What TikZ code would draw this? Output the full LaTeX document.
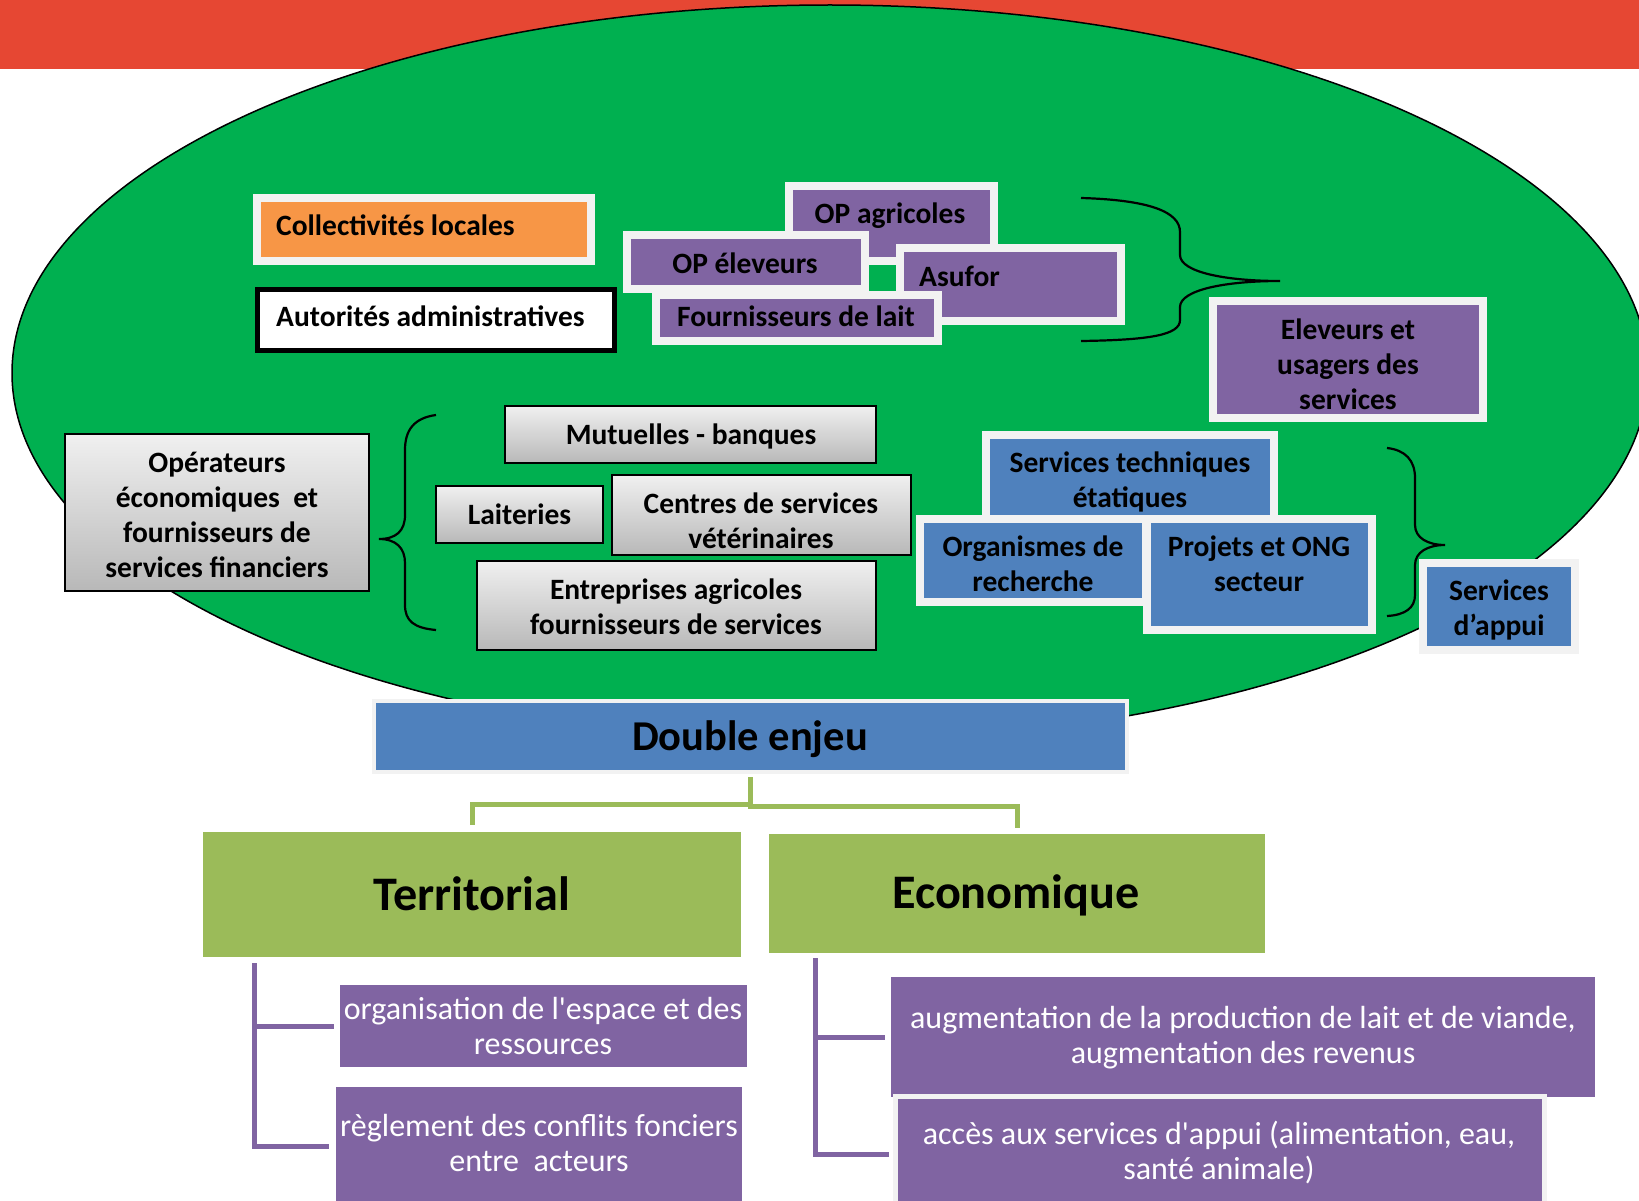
\documentclass[tikz,border=0pt]{standalone}
\usepackage{fontspec}
\setmainfont{Carlito}
\usetikzlibrary{fit,calc}
\definecolor{redband}{HTML}{E64733}
\definecolor{ellgreen}{HTML}{00B050}
\definecolor{orangef}{HTML}{F79646}
\definecolor{purplef}{HTML}{8064A2}
\definecolor{bluef}{HTML}{4F81BD}
\definecolor{greenf}{HTML}{9BBB59}
\definecolor{framec}{HTML}{F2F2F2}
\definecolor{gtop}{HTML}{F0F0F0}
\definecolor{gbot}{HTML}{B8B8B8}
\begin{document}
\begin{tikzpicture}[x=1pt,y=-1pt,
  bx/.style={inner sep=0pt, outer sep=0pt},
  frbox/.style={bx, draw=framec, line width=8pt},
  grayb/.style={bx, draw=black, line width=2.5pt, top color=gtop, bottom color=gbot},
  bt/.style={font=\fontsize{29.5}{35}\selectfont\bfseries, align=center, inner sep=0pt, text=black},
  bigt/.style={font=\fontsize{48.2}{56}\selectfont\bfseries, inner sep=0pt},
  rt/.style={font=\fontsize{32}{35}\selectfont, align=center, inner sep=0pt, text=white},
  bracel/.style={draw=black, line width=2.2pt},
  gline/.style={draw=greenf, line width=5pt},
  pline/.style={draw=purplef, line width=5pt},
]
\useasboundingbox (0,0) rectangle (1639,1201);
\clip (0,0) rectangle (1639,1201);
% background
\fill[redband] (0,0) rectangle (1639,69);
\draw[fill=ellgreen, line width=1.5pt] (830,373) ellipse [x radius=818, y radius=368];

% top-left boxes
\node[frbox, fill=orangef, fit={(257,198) (591,261)}] (coll) {};
\node[bt, anchor=west] (tcoll) at (276,225) {Collectivités locales};
\node[bx, draw=black, line width=5pt, fill=white, fit={(257.5,289.5) (614.5,350.5)}] (auto) {};
\node[bt, anchor=west] (tauto) at (276,316) {Autorités administratives};

% purple group
\node[frbox, fill=purplef, fit={(789,186) (994,261)}] (opa) {};
\node[bt] (topa) at (890,216) {OP agricoles};
\node[frbox, fill=purplef, fit={(627,235) (865,289)}] (ope) {};
\node[bt] (tope) at (745,263) {OP éleveurs};
\node[frbox, fill=purplef, fit={(900,248) (1121,321)}] (asu) {};
\node[bt, anchor=west] (tasu) at (919,276) {Asufor};
\node[frbox, fill=purplef, fit={(656,295) (938,341)}] (four) {};
\node[bt] (tfour) at (796,316) {Fournisseurs de lait};
\node[frbox, fill=purplef, fit={(1213,301) (1483,418)}] (elev) {};
\node[bt] (telev) at (1348,364.5) {Eleveurs et\\usagers des\\services};

% brace to eleveurs
\draw[bracel] (1081,198) .. controls (1150,200) and (1180,212) .. (1180,232) -- (1180,255)
  .. controls (1180,272) and (1225,281) .. (1280,281)
  .. controls (1225,281) and (1180,290) .. (1180,307) -- (1180,320)
  .. controls (1180,335) and (1150,340) .. (1081,341);

% gray boxes
\node[grayb, fit={(65,434) (369,591)}] (oper) {};
\node[bt] (toper) at (217,515) {Opérateurs\\économiques~ et\\fournisseurs de\\services financiers};
\node[grayb, fit={(505,406) (876,463)}] (mut) {};
\node[bt] (tmut) at (691,436) {Mutuelles - banques};
\node[grayb, fit={(436,486) (603,543)}] (lait) {};
\node[bt] (tlait) at (519.5,514) {Laiteries};
\node[grayb, fit={(612,475) (911,555)}] (cent) {};
\node[bt] (tcent) at (761,520.5) {Centres de services\\vétérinaires};
\node[grayb, fit={(477,561) (876,650)}] (entr) {};
\node[bt] (tentr) at (676,606.5) {Entreprises agricoles\\fournisseurs de services};

% left brace
\draw[bracel] (436,415) .. controls (414,418) and (405,430) .. (405,450) -- (405,515)
  .. controls (405,531) and (396,539) .. (379,539)
  .. controls (396,539) and (405,548) .. (405,563) -- (405,605)
  .. controls (405,621) and (414,628) .. (436,630);

% blue group
\node[frbox, fill=bluef, fit={(986,435) (1274,523)}] (stech) {};
\node[bt] (tstech) at (1130,482) {Services techniques\\étatiques};
\node[frbox, fill=bluef, fit={(920,519) (1146,602)}] (orga) {};
\node[bt] (torga) at (1033,564) {Organismes de\\recherche};
\node[frbox, fill=bluef, fit={(1147,519) (1372,630)}] (proj) {};
\node[bt] (tproj) at (1259,564) {Projets et ONG\\secteur};

% right brace
\draw[bracel] (1387,448) .. controls (1405,450) and (1415,460) .. (1415,478) -- (1415,525)
  .. controls (1415,538) and (1428,545) .. (1445,545)
  .. controls (1428,545) and (1415,552) .. (1415,565) -- (1415,595)
  .. controls (1415,608) and (1405,615) .. (1387,616);

\node[frbox, fill=bluef, fit={(1423,563) (1575,650)}] (sapp) {};
\node[bt] (tsapp) at (1499,610) {Services\\d’appui};

% double enjeu
\node[bx, draw=framec, line width=4pt, fill=bluef, fit={(374,701) (1127,772)}] (de) {};
\node[font=\fontsize{42.5}{50}\selectfont\bfseries, inner sep=0pt] (tde) at (750,739) {Double enjeu};

% green level
\node[bx, fill=greenf, fit={(203,832) (741,957)}] (terr) {};
\node[bigt] (tterr) at (472,894) {Territorial};
\node[bx, fill=greenf, fit={(769,834) (1265,953)}] (eco) {};
\node[bigt] (teco) at (1016,895) {Economique};

\draw[gline] ($(de.south)+(0,5)$) |- ($(terr.north)+(0,-28)$) -- ($(terr.north)+(0,-7)$);
\draw[gline] ($(de.south)+(0,5)$) |- ($(eco.north)+(0,-28)$) -- ($(eco.north)+(0,-6)$);

% purple bottom boxes
\node[bx, fill=purplef, fit={(340,985) (747,1067)}] (b1) {};
\node[rt] (tb1) at (543,1026) {organisation de l\textquotesingle espace et des\\ressources};
\node[bx, fill=purplef, fit={(336,1087) (742,1205)}] (b2) {};
\node[rt] (tb2) at (539,1143) {règlement des conflits fonciers\\entre~ acteurs};
\node[bx, fill=purplef, fit={(891,977) (1595,1097)}] (b3) {};
\node[rt] (tb3) at (1243,1038) {augmentation de la production de lait et de viande,\\augmentation des revenus};
\node[bx, draw=framec, line width=5pt, fill=purplef, fit={(895,1096) (1544,1212)}] (b4) {};
\node[rt] (tb4) at (1219,1153) {accès aux services d\textquotesingle appui (alimentation, eau,\\santé animale)};

\draw[pline] ($(terr.south west)+(51,6)$) |- ($(b1.west)+(-6,0)$);
\draw[pline] ($(terr.south west)+(51,6)$) |- ($(b2.west)+(-7,0)$);
\draw[pline] ($(eco.south west)+(46,5)$) |- ($(b3.west)+(-6,0)$);
\draw[pline] ($(eco.south west)+(46,5)$) |- ($(b4.west)+(-6,0)$);
\end{tikzpicture}
\end{document}
